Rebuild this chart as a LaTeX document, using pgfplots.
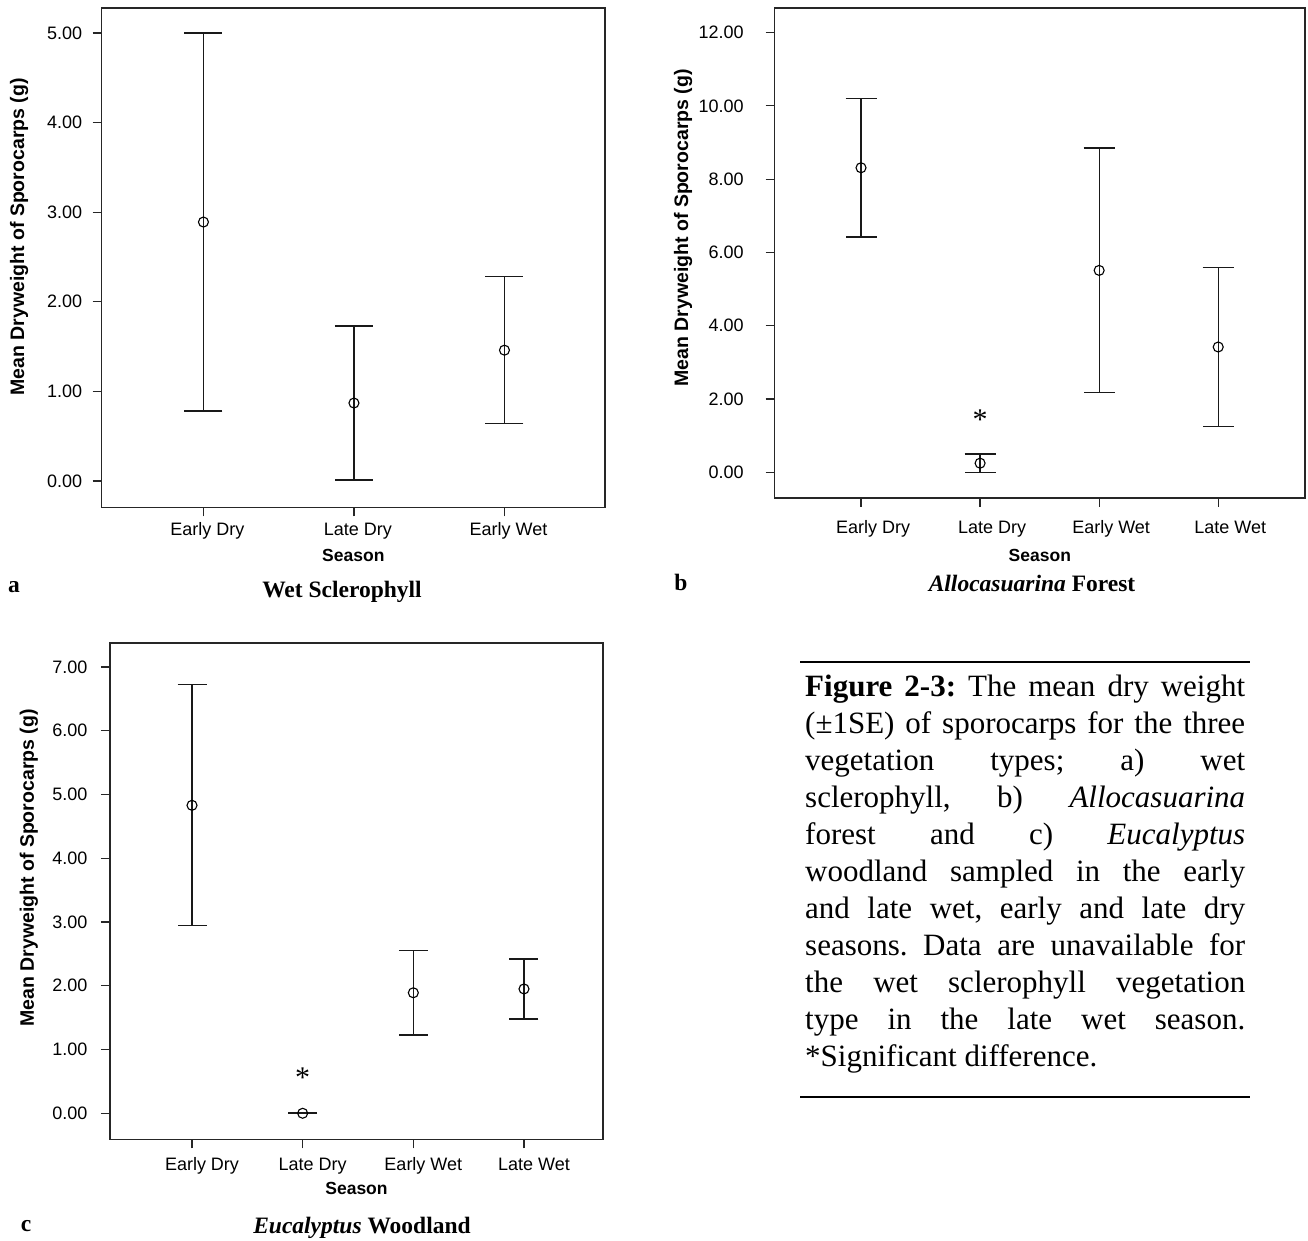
\documentclass[border=0pt]{standalone}
\usepackage{fontspec}
\setmainfont{Liberation Sans}
\newfontfamily\timesfont{Liberation Serif}
\usepackage{pgfplots}
\pgfplotsset{compat=1.18}
\pgfplotsset{
  spss/.style={
    scale only axis,
    axis line style={line width=1.4pt, black!85},
    tick align=outside,
    major tick length=9pt,
    every tick/.style={line width=1.2pt, black!85},
    xtick pos=bottom, ytick pos=left,
    tick label style={font=\fontsize{18}{19}\selectfont, black},
    xlabel style={font=\bfseries\fontsize{17.5}{19}\selectfont},
    ylabel style={font=\bfseries\fontsize{19.5}{21}\selectfont},
    /pgf/number format/fixed,
    /pgf/number format/fixed zerofill,
    /pgf/number format/precision=2,
    /pgf/number format/assume math mode=true,
    clip=false,
  },
  ebar/.style={only marks, mark=o, mark size=5pt, black, line width=1.1pt,
    error bars/y dir=both, error bars/y explicit,
    error bars/error bar style={line width=1.3pt, black!90},
    error bars/error mark options={rotate=90, mark size=#1, line width=1.3pt, black!90}},
}
\begin{document}
\begin{tikzpicture}[x=1pt,y=1pt]
\path[use as bounding box] (0,0) rectangle (1308,1241);
% ---------- panel a ----------
\begin{axis}[spss, at={(101.7pt,733.7pt)}, anchor=south west,
  width=503.3pt, height=499.3pt,
  xmin=-0.676, xmax=2.668, ymin=-0.2935, ymax=5.279,
  xtick={0,1,2}, xticklabels={Early Dry,Late Dry,Early Wet},
  ytick={0,1,2,3,4,5},
  xticklabel style={anchor=base, yshift=-19.7pt, xshift=4pt},
  yticklabel style={anchor=east, xshift=-7pt},
  xlabel={Season}, ylabel={Mean Dryweight of Sporocarps (g)},
  xlabel style={at={(axis description cs:0.5,-0.0975)}, anchor=center},
  ylabel style={at={(axis description cs:-0.1643,0.5414)}, anchor=center}]
\addplot[ebar=19pt] coordinates {
  (0,2.89) +- (0,2.11)
  (1,0.87) +- (0,0.86)
  (2,1.46) +- (0,0.82)
};
\end{axis}
% ---------- panel b ----------
\begin{axis}[spss, at={(774.7pt,743pt)}, anchor=south west,
  width=530.3pt, height=490pt,
  xmin=-0.725, xmax=3.729, ymin=-0.70, ymax=12.67,
  xtick={0,1,2,3}, xticklabels={Early Dry,Late Dry,Early Wet,Late Wet},
  ytick={0,2,4,6,8,10,12},
  xticklabel style={anchor=base, yshift=-27pt, xshift=12pt},
  yticklabel style={anchor=east, xshift=-18.5pt},
  xlabel={Season}, ylabel={Mean Dryweight of Sporocarps (g)},
  xlabel style={at={(axis description cs:0.5,-0.118)}, anchor=center},
  ylabel style={at={(axis description cs:-0.1729,0.551)}, anchor=center}]
\addplot[ebar=15.5pt] coordinates {
  (0,8.31) +- (0,1.89)
  (1,0.25) +- (0,0.25)
  (2,5.51) +- (0,3.34)
  (3,3.42) +- (0,2.16)
};
\node[font=\timesfont\fontsize{30}{30}\selectfont, yshift=-5pt] at (axis cs:1,1.56) {*};
\end{axis}
% ---------- panel c ----------
\begin{axis}[spss, at={(110pt,101.7pt)}, anchor=south west,
  width=493pt, height=496.3pt,
  xmin=-0.741, xmax=3.714, ymin=-0.408, ymax=7.376,
  xtick={0,1,2,3}, xticklabels={Early Dry,Late Dry,Early Wet,Late Wet},
  ytick={0,1,2,3,4,5,6,7},
  xticklabel style={anchor=base, yshift=-22.7pt, xshift=10pt},
  yticklabel style={anchor=east, xshift=-10pt},
  xlabel={Season}, ylabel={Mean Dryweight of Sporocarps (g)},
  xlabel style={at={(axis description cs:0.5,-0.100)}, anchor=center},
  ylabel style={at={(axis description cs:-0.1643,0.5466)}, anchor=center}]
\addplot[ebar=14.5pt] coordinates {
  (0,4.83) +- (0,1.89)
  (1,0.00) +- (0,0.005)
  (2,1.89) +- (0,0.66)
  (3,1.95) +- (0,0.47)
};
\node[font=\timesfont\fontsize{30}{30}\selectfont, yshift=-5pt] at (axis cs:1,0.63) {*};
\end{axis}
% ---------- panel titles ----------
\begin{scope}[every node/.style={font=\timesfont\bfseries\fontsize{23.5}{25}\selectfont, anchor=base, inner sep=0pt}]
\node at (342,643.5) {Wet Sclerophyll};
\node at (14,648.5) {a};
\node at (1032,649.5) {\itshape Allocasuarina\upshape\ Forest};
\node at (681,650) {b};
\node at (362,7) {\itshape Eucalyptus\upshape\ Woodland};
\node at (26,9) {c};
\end{scope}
% ---------- caption ----------
\draw[line width=1.5pt] (800,579) -- (1250,579);
\draw[line width=1.5pt] (800,144) -- (1250,144);
\node[anchor=base west, inner sep=0pt] at (805,174) {\vbox{\hsize=440pt
  \timesfont\fontsize{31}{37}\selectfont\frenchspacing
  \hbox to\hsize{\textbf{Figure 2-3:} The mean dry weight}
  \hbox to\hsize{(±1SE) of sporocarps for the three}
  \hbox to\hsize{vegetation types; a) wet}
  \hbox to\hsize{sclerophyll, b) \textit{Allocasuarina}}
  \hbox to\hsize{forest and c) \textit{Eucalyptus}}
  \hbox to\hsize{woodland sampled in the early}
  \hbox to\hsize{and late wet, early and late dry}
  \hbox to\hsize{seasons. Data are unavailable for}
  \hbox to\hsize{the wet sclerophyll vegetation}
  \hbox to\hsize{type in the late wet season.}
  \hbox{*Significant difference.}}};
\end{tikzpicture}
\end{document}
